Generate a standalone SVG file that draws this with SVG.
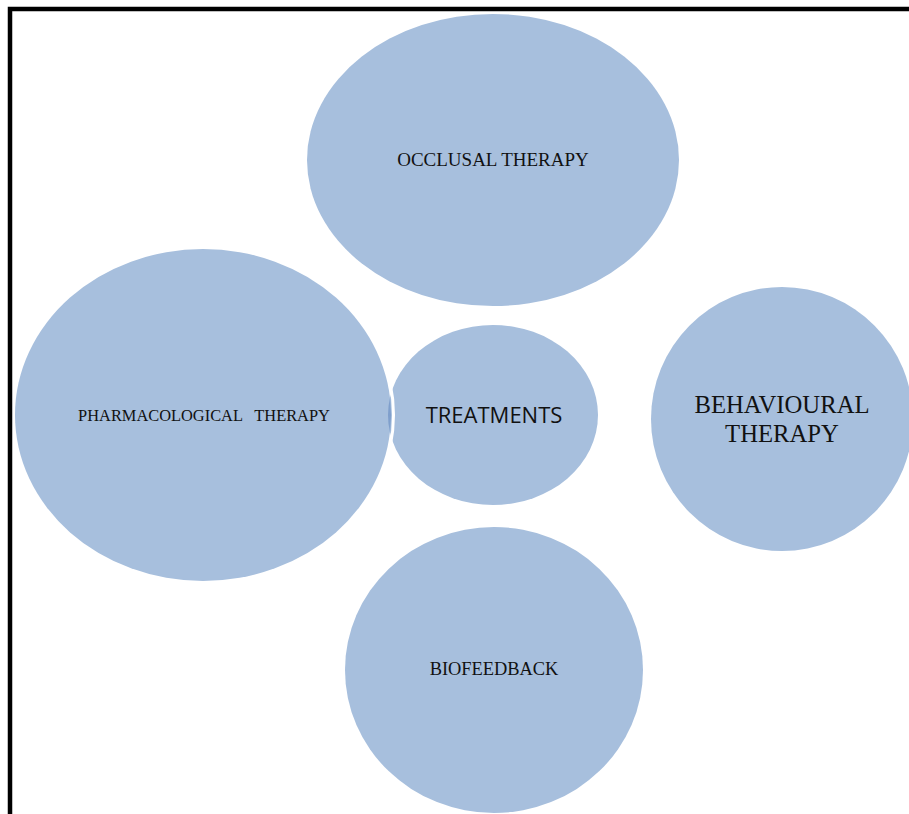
<svg xmlns="http://www.w3.org/2000/svg" width="909" height="814" viewBox="0 0 909 814">
<style>
.node{fill:#a7bfdd}
.serif{font-family:"Liberation Serif","Times New Roman",serif;fill:#111;text-anchor:middle}
.sans{font-family:"Open Sans","Liberation Sans",sans-serif;fill:#111;text-anchor:middle}
</style>
<defs>
<clipPath id="treatClip"><ellipse cx="493" cy="415" rx="105" ry="90"/></clipPath>
</defs>
<rect x="0" y="0" width="909" height="814" fill="#fff"/>
<g id="connectors"></g>
<g id="occlusal">
<ellipse class="node" cx="493" cy="160" rx="186" ry="146"/>
<text class="serif" x="493" y="166" font-size="19">OCCLUSAL THERAPY</text>
</g>
<g id="treatments">
<ellipse class="node" cx="493" cy="415" rx="105" ry="90"/>
<text class="sans" x="494" y="423" font-size="22">TREATMENTS</text>
</g>
<g id="pharmacological">
<ellipse cx="203" cy="415" rx="190.5" ry="168" fill="none" stroke="#fff" stroke-width="3"/>
<ellipse class="node" cx="203" cy="415" rx="188" ry="166"/>
<ellipse cx="203" cy="415" rx="188" ry="166" fill="#7f9fcc" clip-path="url(#treatClip)"/>
<text class="serif" x="204" y="421" font-size="16.4" xml:space="preserve">PHARMACOLOGICAL   THERAPY</text>
</g>
<g id="behavioural">
<ellipse class="node" cx="782" cy="419" rx="131" ry="132"/>
<text class="serif" x="782" y="413" font-size="24.7">BEHAVIOURAL</text>
<text class="serif" x="782" y="442" font-size="24.7">THERAPY</text>
</g>
<g id="biofeedback">
<ellipse class="node" cx="494" cy="670" rx="149" ry="143"/>
<text class="serif" x="494" y="675" font-size="18.4">BIOFEEDBACK</text>
</g>
<path d="M10 814 V9 H909" fill="none" stroke="#000" stroke-width="4.5"/>
</svg>
